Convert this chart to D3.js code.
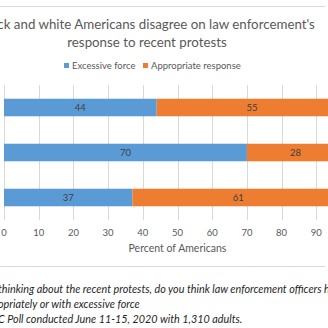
<!DOCTYPE html>
<html lang="en">
<head>
<meta charset="utf-8">
<title>Law enforcement response to protests</title>
<style>
  html, body { margin: 0; padding: 0; background: #fff; overflow: hidden; }
  svg { display: block; font-family: Lato, "Liberation Sans", sans-serif; }
  .title { font-size: 13.3px; fill: #595959; }
  .legend text { font-size: 9.5px; fill: #595959; }
  .tick-label { font-size: 9.5px; fill: #595959; }
  .axis-title { font-size: 10.5px; fill: #595959; }
  .bar-label { font-size: 9.5px; fill: #404040; }
  .cat-label { font-size: 9.5px; fill: #595959; }
  .note { font-size: 10.8px; font-style: italic; fill: #1f1f1f; }
  .grid line { stroke: #d9d9d9; stroke-width: 1; }
  .frame { stroke: #d9d9d9; stroke-width: 1; }
</style>
</head>
<body>
<script src="https://cdn.jsdelivr.net/npm/d3@7"></script>
<script>
// poll results, percent of each group
var categories = ["All adults", "Black Americans", "White Americans"];
var excessive = [44, 70, 37];
var appropriate = [55, 28, 61];
var seriesNames = ["Excessive force", "Appropriate response"];
var seriesColors = ["#5b9bd5", "#ed7d31"];
var xTicks = [0, 10, 20, 30, 40, 50, 60, 70, 80, 90, 100];

var titleLines = [
  "Black and white Americans disagree on law enforcement's",
  "response to recent protests"
];
// [text, index of first char that sits at the left margin of the view]
var notes = [
  ["Question: When thinking about the recent protests, do you think law enforcement officers have responded", 15],
  ["appropriately or with excessive force", 4],
  ["Source: AP-NORC Poll conducted June 11-15, 2020 with 1,310 adults.", 14]
];

var W = 328, H = 328;
var svg = d3.select("body").append("svg")
  .attr("width", W)
  .attr("height", H);

var x = d3.scaleLinear().domain([0, 100]).range([4, 351]);
var y = d3.scaleBand().domain(categories).range([85, 220]).paddingInner(0.61).paddingOuter(0.305);

// outer frame lines
svg.append("line").attr("class", "frame")
  .attr("x1", -20).attr("x2", 325).attr("y1", 6.5).attr("y2", 6.5);
svg.append("line").attr("class", "frame")
  .attr("x1", -20).attr("x2", 325).attr("y1", 266.5).attr("y2", 266.5);

// title
svg.selectAll("text.title")
  .data(titleLines)
  .enter().append("text")
  .attr("class", "title")
  .attr("x", 147)
  .attr("y", function(d, i) { return 28.5 + i * 18; })
  .attr("text-anchor", "middle")
  .text(function(d) { return d; });

// legend
var legend = svg.append("g").attr("class", "legend");
var legendX = [64, 143];
seriesNames.forEach(function(name, i) {
  legend.append("rect")
    .attr("x", legendX[i]).attr("y", 63)
    .attr("width", 5).attr("height", 5)
    .attr("fill", seriesColors[i]);
  legend.append("text")
    .attr("x", legendX[i] + 8).attr("y", 69)
    .text(name);
});

// vertical gridlines
svg.append("g").attr("class", "grid")
  .selectAll("line")
  .data(xTicks)
  .enter().append("line")
  .attr("x1", function(d) { return Math.round(x(d)) + 0.5; })
  .attr("x2", function(d) { return Math.round(x(d)) + 0.5; })
  .attr("y1", 85).attr("y2", 220);

// stacked bars
var rows = categories.map(function(c, i) {
  return { cat: c, ex: excessive[i], ap: appropriate[i] };
});

var bars = svg.append("g");
rows.forEach(function(r) {
  var y0 = y(r.cat), h = y.bandwidth();
  bars.append("rect")
    .attr("x", x(0)).attr("y", y0)
    .attr("width", x(r.ex) - x(0)).attr("height", h)
    .attr("fill", seriesColors[0]);
  bars.append("rect")
    .attr("x", x(r.ex)).attr("y", y0)
    .attr("width", x(r.ex + r.ap) - x(r.ex)).attr("height", h)
    .attr("fill", seriesColors[1]);
  bars.append("text").attr("class", "bar-label")
    .attr("x", (x(0) + x(r.ex)) / 2).attr("y", y0 + h / 2 + 3.3)
    .attr("text-anchor", "middle").text(r.ex);
  bars.append("text").attr("class", "bar-label")
    .attr("x", (x(r.ex) + x(r.ex + r.ap)) / 2).attr("y", y0 + h / 2 + 3.3)
    .attr("text-anchor", "middle").text(r.ap);
  bars.append("text").attr("class", "cat-label")
    .attr("x", x(0) - 6).attr("y", y0 + h / 2 + 3.3)
    .attr("text-anchor", "end").text(r.cat);
});

// x tick labels
svg.selectAll("text.tick-label")
  .data(xTicks)
  .enter().append("text")
  .attr("class", "tick-label")
  .attr("x", function(d) { return x(d); })
  .attr("y", 236)
  .attr("text-anchor", "middle")
  .text(function(d) { return d; });

svg.append("text").attr("class", "axis-title")
  .attr("x", (x(0) + x(100)) / 2).attr("y", 251.5)
  .attr("text-anchor", "middle")
  .text("Percent of Americans");

// notes under the chart, shifted so the chosen character lands at the edge
svg.selectAll("text.note")
  .data(notes)
  .enter().append("text")
  .attr("class", "note")
  .attr("y", function(d, i) { return 292.5 + i * 15.3; })
  .text(function(d) { return d[0]; })
  .attr("x", function(d) {
    return -2 - this.getSubStringLength(0, d[1]);
  });
</script>
</body>
</html>
